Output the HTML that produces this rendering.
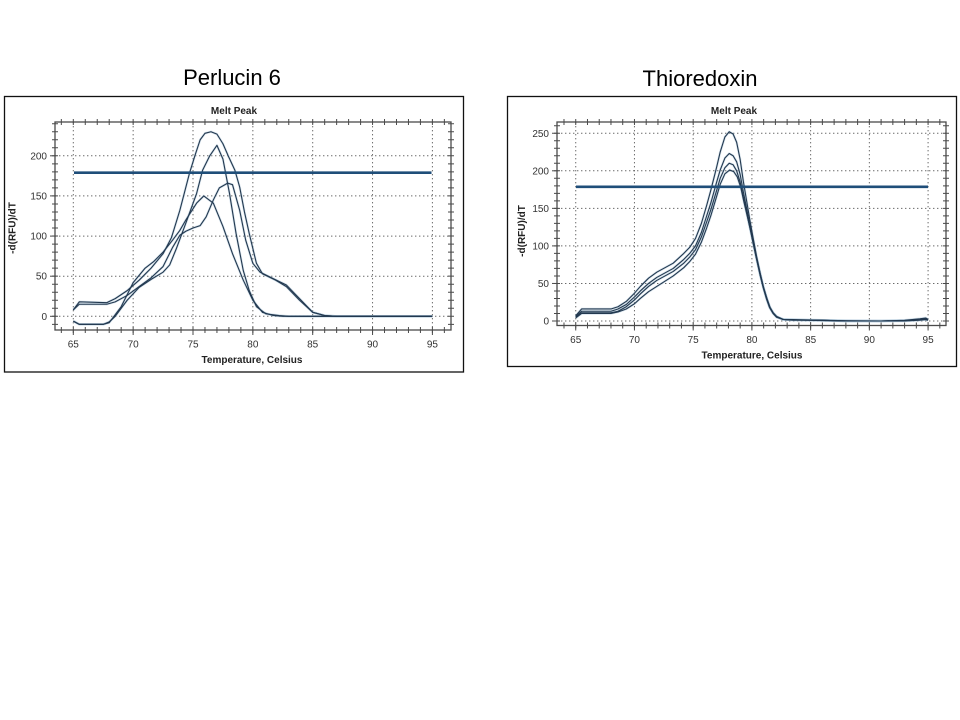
<!DOCTYPE html>
<html>
<head>
<meta charset="utf-8">
<style>
html,body{margin:0;padding:0;background:#fff;}
body{width:960px;height:720px;overflow:hidden;}
svg{display:block;}
.ttl{font-family:"Liberation Sans",Arial,sans-serif;font-size:22px;fill:#000;}
.sm{font-family:"Liberation Sans",Arial,sans-serif;font-size:10px;fill:#333;}
.bd{font-family:"Liberation Sans",Arial,sans-serif;font-size:10px;font-weight:bold;fill:#222;}
.grid{stroke:#6a6a6a;stroke-width:1;stroke-dasharray:1.4 2.6;fill:none;}
.cv polyline{fill:none;stroke:#22384f;stroke-width:1.1;stroke-linejoin:round;}
.halo polyline{fill:none;stroke:#9dbbd3;stroke-width:2.4;stroke-opacity:0.4;stroke-linejoin:round;}
.thr{stroke:#1f4e79;stroke-width:2.6;}
</style>
</head>
<body>
<svg width="960" height="720" viewBox="0 0 960 720" xmlns="http://www.w3.org/2000/svg">
<rect x="0" y="0" width="960" height="720" fill="#fff"/>

<!-- ===================== LEFT PANEL ===================== -->
<text class="ttl" x="232" y="85" text-anchor="middle">Perlucin 6</text>
<rect x="4.5" y="96.5" width="459" height="275.5" fill="#fff" stroke="#111" stroke-width="1.3"/>
<text class="bd" x="234" y="114" text-anchor="middle">Melt Peak</text>

<g class="grid">
  <line x1="73.3" y1="122" x2="73.3" y2="330"/>
  <line x1="133.15" y1="122" x2="133.15" y2="330"/>
  <line x1="193" y1="122" x2="193" y2="330"/>
  <line x1="252.85" y1="122" x2="252.85" y2="330"/>
  <line x1="312.7" y1="122" x2="312.7" y2="330"/>
  <line x1="372.55" y1="122" x2="372.55" y2="330"/>
  <line x1="432.4" y1="122" x2="432.4" y2="330"/>
  <line x1="55" y1="316.3" x2="451" y2="316.3"/>
  <line x1="55" y1="276.2" x2="451" y2="276.2"/>
  <line x1="55" y1="236.1" x2="451" y2="236.1"/>
  <line x1="55" y1="195.9" x2="451" y2="195.9"/>
  <line x1="55" y1="155.8" x2="451" y2="155.8"/>
</g>

<rect x="55" y="122" width="396" height="208" fill="none" stroke="#4a4a4a" stroke-width="1.3"/>
<g stroke="#4a4a4a" fill="none">
  <line x1="60.83" y1="330" x2="446" y2="330" stroke-width="6" stroke-dasharray="1 10.97"/>
  <line x1="60.83" y1="122" x2="446" y2="122" stroke-width="6" stroke-dasharray="1 10.97"/>
  <line x1="55" y1="324.83" x2="55" y2="122" stroke-width="6" stroke-dasharray="1 7.025"/>
  <line x1="451" y1="324.83" x2="451" y2="122" stroke-width="6" stroke-dasharray="1 7.025"/>
  <g stroke-width="1">
    <line x1="73.3" y1="330" x2="73.3" y2="335"/>
    <line x1="133.15" y1="330" x2="133.15" y2="335"/>
    <line x1="193" y1="330" x2="193" y2="335"/>
    <line x1="252.85" y1="330" x2="252.85" y2="335"/>
    <line x1="312.7" y1="330" x2="312.7" y2="335"/>
    <line x1="372.55" y1="330" x2="372.55" y2="335"/>
    <line x1="432.4" y1="330" x2="432.4" y2="335"/>
    <line x1="50" y1="316.3" x2="55" y2="316.3"/>
    <line x1="50" y1="276.2" x2="55" y2="276.2"/>
    <line x1="50" y1="236.1" x2="55" y2="236.1"/>
    <line x1="50" y1="195.9" x2="55" y2="195.9"/>
    <line x1="50" y1="155.8" x2="55" y2="155.8"/>
  </g>
</g>

<g class="sm" text-anchor="end">
  <text x="47" y="319.8">0</text>
  <text x="47" y="279.7">50</text>
  <text x="47" y="239.6">100</text>
  <text x="47" y="199.4">150</text>
  <text x="47" y="159.3">200</text>
</g>
<g class="sm" text-anchor="middle">
  <text x="73.3" y="347.5">65</text>
  <text x="133.15" y="347.5">70</text>
  <text x="193" y="347.5">75</text>
  <text x="252.85" y="347.5">80</text>
  <text x="312.7" y="347.5">85</text>
  <text x="372.55" y="347.5">90</text>
  <text x="432.4" y="347.5">95</text>
</g>
<text class="bd" x="252" y="363" text-anchor="middle">Temperature, Celsius</text>
<text class="bd" x="0" y="0" text-anchor="middle" transform="translate(15.5,228) rotate(-90)">-d(RFU)/dT</text>

<g class="halo">
<polyline points="73.30,309.88 79.29,301.86 106.82,302.66 115.20,298.64 127.17,290.62 139.14,280.19 151.11,268.15 163.08,253.71 171.45,237.66 179.83,210.37 189.41,173.46 195.39,154.19 200.18,139.75 204.97,133.33 210.96,131.73 216.94,134.13 222.93,143.76 228.91,157.41 234.90,170.25 239.69,187.10 244.48,211.98 249.26,233.64 256.44,263.33 262.43,273.77 275.60,280.19 286.37,286.61 299.54,300.25 312.70,312.29 324.67,315.50 336.64,316.30 432.40,316.30"/>
<polyline points="73.30,309.88 79.29,304.26 106.82,304.26 115.20,301.86 127.17,295.44 139.14,286.61 151.11,277.78 163.08,266.54 172.65,247.29 179.83,235.25 185.82,231.24 193.00,228.03 200.18,225.62 206.17,216.79 213.35,199.94 219.34,187.90 227.72,183.09 232.51,184.69 239.69,210.37 245.67,240.06 252.85,263.33 260.03,272.16 273.20,278.58 286.37,285.00 299.54,298.64 312.70,312.29 324.67,315.50 336.64,316.30 432.40,316.30"/>
<polyline points="73.30,321.12 79.29,324.33 103.23,324.33 109.21,321.92 115.20,316.30 127.17,300.25 139.14,287.41 151.11,279.39 163.08,272.16 169.66,264.94 176.24,248.89 185.82,223.21 196.59,193.52 202.58,170.25 209.76,155.80 216.94,145.37 222.93,159.01 229.51,193.52 236.10,233.64 243.28,270.56 249.26,290.62 256.44,306.67 266.02,313.89 279.19,315.50 288.76,316.30 432.40,316.30"/>
<polyline points="73.30,321.12 79.29,324.33 103.23,324.33 109.21,322.72 121.18,306.67 133.15,282.60 145.12,268.15 153.50,261.73 163.08,252.10 172.65,240.06 179.83,230.43 185.82,220.00 196.59,203.15 203.77,195.93 213.35,203.15 222.93,226.42 232.51,253.71 243.28,280.19 252.85,300.25 262.43,312.29 273.20,315.50 282.78,316.30 432.40,316.30"/>
</g>
<g class="cv">
<polyline points="73.30,309.88 79.29,301.86 106.82,302.66 115.20,298.64 127.17,290.62 139.14,280.19 151.11,268.15 163.08,253.71 171.45,237.66 179.83,210.37 189.41,173.46 195.39,154.19 200.18,139.75 204.97,133.33 210.96,131.73 216.94,134.13 222.93,143.76 228.91,157.41 234.90,170.25 239.69,187.10 244.48,211.98 249.26,233.64 256.44,263.33 262.43,273.77 275.60,280.19 286.37,286.61 299.54,300.25 312.70,312.29 324.67,315.50 336.64,316.30 432.40,316.30"/>
<polyline points="73.30,309.88 79.29,304.26 106.82,304.26 115.20,301.86 127.17,295.44 139.14,286.61 151.11,277.78 163.08,266.54 172.65,247.29 179.83,235.25 185.82,231.24 193.00,228.03 200.18,225.62 206.17,216.79 213.35,199.94 219.34,187.90 227.72,183.09 232.51,184.69 239.69,210.37 245.67,240.06 252.85,263.33 260.03,272.16 273.20,278.58 286.37,285.00 299.54,298.64 312.70,312.29 324.67,315.50 336.64,316.30 432.40,316.30"/>
<polyline points="73.30,321.12 79.29,324.33 103.23,324.33 109.21,321.92 115.20,316.30 127.17,300.25 139.14,287.41 151.11,279.39 163.08,272.16 169.66,264.94 176.24,248.89 185.82,223.21 196.59,193.52 202.58,170.25 209.76,155.80 216.94,145.37 222.93,159.01 229.51,193.52 236.10,233.64 243.28,270.56 249.26,290.62 256.44,306.67 266.02,313.89 279.19,315.50 288.76,316.30 432.40,316.30"/>
<polyline points="73.30,321.12 79.29,324.33 103.23,324.33 109.21,322.72 121.18,306.67 133.15,282.60 145.12,268.15 153.50,261.73 163.08,252.10 172.65,240.06 179.83,230.43 185.82,220.00 196.59,203.15 203.77,195.93 213.35,203.15 222.93,226.42 232.51,253.71 243.28,280.19 252.85,300.25 262.43,312.29 273.20,315.50 282.78,316.30 432.40,316.30"/>
</g>
<line class="thr" x1="74" y1="172.7" x2="431.5" y2="172.7"/>

<!-- ===================== RIGHT PANEL ===================== -->
<text class="ttl" x="700" y="86" text-anchor="middle">Thioredoxin</text>
<rect x="507.5" y="96.5" width="449" height="270" fill="#fff" stroke="#111" stroke-width="1.3"/>
<text class="bd" x="734" y="114" text-anchor="middle">Melt Peak</text>

<g class="grid">
  <line x1="575.73" y1="122" x2="575.73" y2="325.5"/>
  <line x1="634.45" y1="122" x2="634.45" y2="325.5"/>
  <line x1="693.18" y1="122" x2="693.18" y2="325.5"/>
  <line x1="751.9" y1="122" x2="751.9" y2="325.5"/>
  <line x1="810.63" y1="122" x2="810.63" y2="325.5"/>
  <line x1="869.35" y1="122" x2="869.35" y2="325.5"/>
  <line x1="928.08" y1="122" x2="928.08" y2="325.5"/>
  <line x1="557" y1="321" x2="946" y2="321"/>
  <line x1="557" y1="283.45" x2="946" y2="283.45"/>
  <line x1="557" y1="245.9" x2="946" y2="245.9"/>
  <line x1="557" y1="208.35" x2="946" y2="208.35"/>
  <line x1="557" y1="170.8" x2="946" y2="170.8"/>
  <line x1="557" y1="133.25" x2="946" y2="133.25"/>
</g>

<rect x="557" y="122" width="389" height="203.5" fill="none" stroke="#4a4a4a" stroke-width="1.3"/>
<g stroke="#4a4a4a" fill="none">
  <line x1="563.49" y1="325.5" x2="941" y2="325.5" stroke-width="6" stroke-dasharray="1 10.745"/>
  <line x1="563.49" y1="122" x2="941" y2="122" stroke-width="6" stroke-dasharray="1 10.745"/>
  <line x1="557" y1="321.5" x2="557" y2="122" stroke-width="6" stroke-dasharray="1 6.51"/>
  <line x1="946" y1="321.5" x2="946" y2="122" stroke-width="6" stroke-dasharray="1 6.51"/>
  <g stroke-width="1">
    <line x1="575.73" y1="325.5" x2="575.73" y2="330.5"/>
    <line x1="634.45" y1="325.5" x2="634.45" y2="330.5"/>
    <line x1="693.18" y1="325.5" x2="693.18" y2="330.5"/>
    <line x1="751.9" y1="325.5" x2="751.9" y2="330.5"/>
    <line x1="810.63" y1="325.5" x2="810.63" y2="330.5"/>
    <line x1="869.35" y1="325.5" x2="869.35" y2="330.5"/>
    <line x1="928.08" y1="325.5" x2="928.08" y2="330.5"/>
    <line x1="552" y1="321" x2="557" y2="321"/>
    <line x1="552" y1="283.45" x2="557" y2="283.45"/>
    <line x1="552" y1="245.9" x2="557" y2="245.9"/>
    <line x1="552" y1="208.35" x2="557" y2="208.35"/>
    <line x1="552" y1="170.8" x2="557" y2="170.8"/>
    <line x1="552" y1="133.25" x2="557" y2="133.25"/>
  </g>
</g>

<g class="sm" text-anchor="end">
  <text x="549" y="324.5">0</text>
  <text x="549" y="286.95">50</text>
  <text x="549" y="249.4">100</text>
  <text x="549" y="211.85">150</text>
  <text x="549" y="174.3">200</text>
  <text x="549" y="136.75">250</text>
</g>
<g class="sm" text-anchor="middle">
  <text x="575.73" y="343">65</text>
  <text x="634.45" y="343">70</text>
  <text x="693.18" y="343">75</text>
  <text x="751.9" y="343">80</text>
  <text x="810.63" y="343">85</text>
  <text x="869.35" y="343">90</text>
  <text x="928.08" y="343">95</text>
</g>
<text class="bd" x="752" y="358.5" text-anchor="middle">Temperature, Celsius</text>
<text class="bd" x="0" y="0" text-anchor="middle" transform="translate(525,231) rotate(-90)">-d(RFU)/dT</text>

<g class="halo">
<polyline points="575.73,315.74 581.60,308.98 610.96,308.98 618.01,306.73 626.23,301.47 634.45,293.21 640.32,286.45 648.54,278.19 656.77,272.19 664.99,267.68 673.21,263.17 683.78,253.41 689.65,247.40 695.52,238.39 701.40,223.37 706.68,205.35 710.79,190.33 716.67,167.05 720.19,152.03 724.89,137.01 729.23,131.75 733.11,134.00 736.63,142.26 740.16,159.54 743.33,181.31 746.62,200.84 749.91,220.37 753.07,237.64 756.60,256.41 760.12,272.94 763.29,286.45 766.58,297.72 769.52,306.73 773.04,312.74 776.56,316.49 783.26,319.50 793.01,319.87 822.37,320.25 845.86,321 881.10,321 904.59,320.62 919.85,319.50 925.73,318.75 928.08,319.50"/>
<polyline points="575.73,316.49 581.60,311.24 610.96,311.24 618.01,308.98 626.23,304.48 634.45,296.97 640.32,290.96 648.54,283.45 656.77,277.44 664.99,272.94 673.21,268.43 683.78,259.42 689.65,253.41 695.52,245.90 701.40,232.38 706.68,215.86 710.79,203.09 716.67,182.07 720.19,170.05 724.89,158.03 729.23,153.53 733.11,155.78 736.63,161.79 740.16,174.56 743.33,191.83 746.62,208.35 749.91,225.62 753.07,241.39 756.60,258.67 760.12,274.44 763.29,287.20 766.58,298.47 769.52,306.73 773.04,312.74 776.56,316.49 783.26,319.50 793.01,319.87 822.37,320.62 845.86,321 881.10,321 904.59,320.25 919.85,318.75 925.73,318.00 928.08,319.50"/>
<polyline points="575.73,317.25 581.60,312.74 610.96,312.74 618.01,311.24 626.23,306.73 634.45,299.97 640.32,293.96 648.54,286.45 656.77,280.45 664.99,275.94 673.21,271.43 683.78,263.17 689.65,257.17 695.52,249.66 701.40,236.89 706.68,221.87 710.79,209.85 716.67,190.33 720.19,178.31 724.89,167.80 729.23,163.29 733.11,164.79 736.63,170.80 740.16,182.07 743.33,197.09 746.62,212.11 749.91,227.88 753.07,242.90 756.60,259.42 760.12,275.19 763.29,287.96 766.58,299.22 769.52,307.48 773.04,313.49 776.56,317.25 783.26,319.50 793.01,319.50 822.37,320.25 845.86,320.62 881.10,321 904.59,320.62 919.85,319.87 925.73,319.50 928.08,320.25"/>
<polyline points="575.73,318.00 581.60,313.49 610.96,313.49 618.01,311.99 626.23,308.98 634.45,303.73 640.32,298.47 648.54,291.71 656.77,286.45 664.99,281.20 673.21,275.94 683.78,267.68 689.65,261.67 695.52,254.16 701.40,242.14 706.68,227.88 710.79,215.86 716.67,196.33 720.19,184.32 724.89,173.80 729.58,170.05 733.69,171.55 737.22,176.81 740.74,187.32 743.68,200.84 747.20,215.86 750.73,230.88 753.66,245.15 757.19,260.92 760.71,275.94 763.65,287.96 767.17,299.22 770.10,307.48 773.63,313.49 777.15,317.25 783.61,319.50 793.01,320.25 822.37,320.25 845.86,321 881.10,321 904.59,321 919.85,320.25 925.73,319.50 928.08,320.25"/>
</g>
<g class="cv">
<polyline points="575.73,315.74 581.60,308.98 610.96,308.98 618.01,306.73 626.23,301.47 634.45,293.21 640.32,286.45 648.54,278.19 656.77,272.19 664.99,267.68 673.21,263.17 683.78,253.41 689.65,247.40 695.52,238.39 701.40,223.37 706.68,205.35 710.79,190.33 716.67,167.05 720.19,152.03 724.89,137.01 729.23,131.75 733.11,134.00 736.63,142.26 740.16,159.54 743.33,181.31 746.62,200.84 749.91,220.37 753.07,237.64 756.60,256.41 760.12,272.94 763.29,286.45 766.58,297.72 769.52,306.73 773.04,312.74 776.56,316.49 783.26,319.50 793.01,319.87 822.37,320.25 845.86,321 881.10,321 904.59,320.62 919.85,319.50 925.73,318.75 928.08,319.50"/>
<polyline points="575.73,316.49 581.60,311.24 610.96,311.24 618.01,308.98 626.23,304.48 634.45,296.97 640.32,290.96 648.54,283.45 656.77,277.44 664.99,272.94 673.21,268.43 683.78,259.42 689.65,253.41 695.52,245.90 701.40,232.38 706.68,215.86 710.79,203.09 716.67,182.07 720.19,170.05 724.89,158.03 729.23,153.53 733.11,155.78 736.63,161.79 740.16,174.56 743.33,191.83 746.62,208.35 749.91,225.62 753.07,241.39 756.60,258.67 760.12,274.44 763.29,287.20 766.58,298.47 769.52,306.73 773.04,312.74 776.56,316.49 783.26,319.50 793.01,319.87 822.37,320.62 845.86,321 881.10,321 904.59,320.25 919.85,318.75 925.73,318.00 928.08,319.50"/>
<polyline points="575.73,317.25 581.60,312.74 610.96,312.74 618.01,311.24 626.23,306.73 634.45,299.97 640.32,293.96 648.54,286.45 656.77,280.45 664.99,275.94 673.21,271.43 683.78,263.17 689.65,257.17 695.52,249.66 701.40,236.89 706.68,221.87 710.79,209.85 716.67,190.33 720.19,178.31 724.89,167.80 729.23,163.29 733.11,164.79 736.63,170.80 740.16,182.07 743.33,197.09 746.62,212.11 749.91,227.88 753.07,242.90 756.60,259.42 760.12,275.19 763.29,287.96 766.58,299.22 769.52,307.48 773.04,313.49 776.56,317.25 783.26,319.50 793.01,319.50 822.37,320.25 845.86,320.62 881.10,321 904.59,320.62 919.85,319.87 925.73,319.50 928.08,320.25"/>
<polyline points="575.73,318.00 581.60,313.49 610.96,313.49 618.01,311.99 626.23,308.98 634.45,303.73 640.32,298.47 648.54,291.71 656.77,286.45 664.99,281.20 673.21,275.94 683.78,267.68 689.65,261.67 695.52,254.16 701.40,242.14 706.68,227.88 710.79,215.86 716.67,196.33 720.19,184.32 724.89,173.80 729.58,170.05 733.69,171.55 737.22,176.81 740.74,187.32 743.68,200.84 747.20,215.86 750.73,230.88 753.66,245.15 757.19,260.92 760.71,275.94 763.65,287.96 767.17,299.22 770.10,307.48 773.63,313.49 777.15,317.25 783.61,319.50 793.01,320.25 822.37,320.25 845.86,321 881.10,321 904.59,321 919.85,320.25 925.73,319.50 928.08,320.25"/>
</g>
<line class="thr" x1="576" y1="186.8" x2="928" y2="186.8"/>

</svg>
</body>
</html>
